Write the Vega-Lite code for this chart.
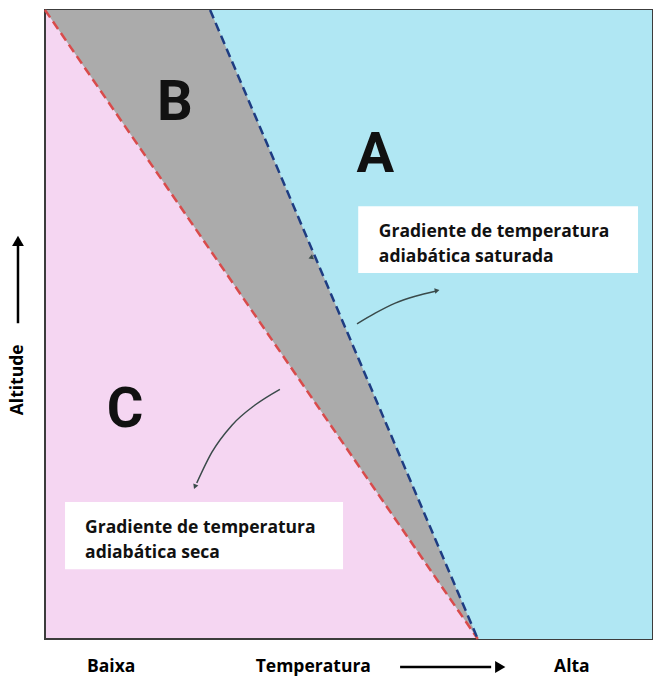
{
  "$schema": "https://vega.github.io/schema/vega-lite/v6.json",
  "width": 607,
  "height": 629,
  "autosize": {"type": "none"},
  "padding": {"left": 45, "top": 10, "right": 2, "bottom": 38},
  "background": "white",
  "config": {"view": {"fill": "#f5d6f2", "stroke": "#3c3c3c", "strokeWidth": 2}},
  "datasets": {
    "gray": [{"x": 0, "y": 100, "y2": 100}, {"x": 71.3, "y": 0, "y2": 100}],
    "blue": [{"x": 27.2, "y": 100, "y2": 100}, {"x": 71.3, "y": 0, "y2": 100}, {"x": 100, "y": 0, "y2": 100}],
    "lines": [
      {"line": "seca", "x": 0, "y": 100},
      {"line": "seca", "x": 71.3, "y": 0},
      {"line": "saturada", "x": 27.2, "y": 100},
      {"line": "saturada", "x": 71.3, "y": 0}
    ],
    "letters": [
      {"label": "A", "x": 54.4, "y": 76.9},
      {"label": "B", "x": 21.4, "y": 85.2},
      {"label": "C", "x": 13.2, "y": 36.4}
    ],
    "boxes": [
      {"x": 51.6, "x2": 97.7, "y": 68.8, "y2": 58.2},
      {"x": 3.3, "x2": 49.1, "y": 21.8, "y2": 11.1}
    ],
    "notes": [
      {"text": "Gradiente de temperatura", "x": 55.0, "y": 63.9},
      {"text": "adiabática saturada", "x": 55.0, "y": 59.9},
      {"text": "Gradiente de temperatura", "x": 6.6, "y": 16.9},
      {"text": "adiabática seca", "x": 6.6, "y": 12.9}
    ],
    "curves": [
      {"curve": 1, "o": 1, "x": 51.4, "y": 50.1},
      {"curve": 1, "o": 2, "x": 54.4, "y": 51.8},
      {"curve": 1, "o": 3, "x": 57.7, "y": 53.4},
      {"curve": 1, "o": 4, "x": 61.0, "y": 54.5},
      {"curve": 1, "o": 5, "x": 64.3, "y": 55.3},
      {"curve": 2, "o": 1, "x": 38.7, "y": 39.7},
      {"curve": 2, "o": 2, "x": 34.6, "y": 37.2},
      {"curve": 2, "o": 3, "x": 30.8, "y": 34.0},
      {"curve": 2, "o": 4, "x": 27.5, "y": 29.7},
      {"curve": 2, "o": 5, "x": 25.0, "y": 24.8}
    ],
    "heads": [
      {"x": 64.6, "y": 55.4, "angle": -12},
      {"x": 24.7, "y": 24.2, "angle": 112},
      {"x": 44.0, "y": 60.6, "angle": 40}
    ],
    "axislabels": [
      {"text": "Baixa", "x": 10.9, "y": -4.45},
      {"text": "Temperatura", "x": 44.2, "y": -4.45},
      {"text": "Alta", "x": 86.8, "y": -4.45}
    ],
    "axisarrows": [
      {"x": 58.5, "x2": 73.5, "y": -4.45, "y2": -4.45}
    ],
    "vaxisarrow": [
      {"x": -4.45, "y": 50.2, "y2": 62.5}
    ],
    "axisheads": [
      {"x": 75.0, "y": -4.45, "angle": 90},
      {"x": -4.45, "y": 63.3, "angle": 0}
    ],
    "vlabel": [{"text": "Altitude", "x": -4.45, "y": 41.2}]
  },
  "layer": [
    {
      "data": {"name": "gray"},
      "mark": {"type": "area", "color": "#ababab", "clip": true},
      "encoding": {
        "x": {"field": "x", "type": "quantitative", "scale": {"domain": [0, 100], "nice": false}, "axis": null},
        "y": {"field": "y", "type": "quantitative", "scale": {"domain": [0, 100], "nice": false}, "axis": null},
        "y2": {"field": "y2"}
      }
    },
    {
      "data": {"name": "blue"},
      "mark": {"type": "area", "color": "#b0e7f3"},
      "encoding": {
        "x": {"field": "x", "type": "quantitative"},
        "y": {"field": "y", "type": "quantitative"},
        "y2": {"field": "y2"}
      }
    },
    {
      "data": {"name": "lines"},
      "mark": {"type": "line", "strokeWidth": 2.5, "strokeDash": [9, 5]},
      "encoding": {
        "x": {"field": "x", "type": "quantitative"},
        "y": {"field": "y", "type": "quantitative"},
        "detail": {"field": "line"},
        "color": {"field": "line", "type": "nominal", "scale": {"domain": ["seca", "saturada"], "range": ["#d94b4b", "#1e3c82"]}, "legend": null}
      }
    },
    {
      "data": {"name": "letters"},
      "mark": {"type": "text", "font": "Roboto", "fontWeight": "bold", "fontSize": 56, "color": "#111111", "align": "center", "baseline": "middle"},
      "encoding": {
        "x": {"field": "x", "type": "quantitative"},
        "y": {"field": "y", "type": "quantitative"},
        "text": {"field": "label"}
      }
    },
    {
      "data": {"name": "boxes"},
      "mark": {"type": "rect", "color": "white"},
      "encoding": {
        "x": {"field": "x", "type": "quantitative"},
        "x2": {"field": "x2"},
        "y": {"field": "y", "type": "quantitative"},
        "y2": {"field": "y2"}
      }
    },
    {
      "data": {"name": "notes"},
      "mark": {"type": "text", "font": "Open Sans", "fontWeight": "bold", "fontSize": 17.5, "color": "#111111", "align": "left", "baseline": "alphabetic"},
      "encoding": {
        "x": {"field": "x", "type": "quantitative"},
        "y": {"field": "y", "type": "quantitative"},
        "text": {"field": "text"}
      }
    },
    {
      "data": {"name": "curves"},
      "mark": {"type": "line", "interpolate": "monotone", "strokeWidth": 1.5, "color": "#3a4a4a"},
      "encoding": {
        "x": {"field": "x", "type": "quantitative"},
        "y": {"field": "y", "type": "quantitative"},
        "detail": {"field": "curve"},
        "order": {"field": "o"}
      }
    },
    {
      "data": {"name": "heads"},
      "mark": {"type": "point", "shape": "triangle-right", "filled": true, "size": 30, "color": "#3a4a4a", "opacity": 1},
      "encoding": {
        "x": {"field": "x", "type": "quantitative"},
        "y": {"field": "y", "type": "quantitative"},
        "angle": {"field": "angle", "type": "quantitative", "scale": null}
      }
    },
    {
      "data": {"name": "axislabels"},
      "mark": {"type": "text", "font": "Open Sans", "fontWeight": "bold", "fontSize": 17.5, "color": "#000000", "align": "center", "baseline": "middle", "clip": false},
      "encoding": {
        "x": {"field": "x", "type": "quantitative"},
        "y": {"field": "y", "type": "quantitative"},
        "text": {"field": "text"}
      }
    },
    {
      "data": {"name": "axisarrows"},
      "mark": {"type": "rule", "strokeWidth": 2.5, "color": "#000000", "clip": false},
      "encoding": {
        "x": {"field": "x", "type": "quantitative"},
        "x2": {"field": "x2"},
        "y": {"field": "y", "type": "quantitative"}
      }
    },
    {
      "data": {"name": "vaxisarrow"},
      "mark": {"type": "rule", "strokeWidth": 2.5, "color": "#000000", "clip": false},
      "encoding": {
        "x": {"field": "x", "type": "quantitative"},
        "y": {"field": "y", "type": "quantitative"},
        "y2": {"field": "y2"}
      }
    },
    {
      "data": {"name": "axisheads"},
      "mark": {"type": "point", "shape": "triangle-up", "filled": true, "size": 140, "color": "#000000", "opacity": 1, "clip": false},
      "encoding": {
        "x": {"field": "x", "type": "quantitative"},
        "y": {"field": "y", "type": "quantitative"},
        "angle": {"field": "angle", "type": "quantitative", "scale": null}
      }
    },
    {
      "data": {"name": "vlabel"},
      "mark": {"type": "text", "font": "Open Sans", "fontWeight": "bold", "fontSize": 17.5, "color": "#000000", "align": "center", "baseline": "middle", "angle": 270, "clip": false},
      "encoding": {
        "x": {"field": "x", "type": "quantitative"},
        "y": {"field": "y", "type": "quantitative"},
        "text": {"field": "text"}
      }
    }
  ]
}
